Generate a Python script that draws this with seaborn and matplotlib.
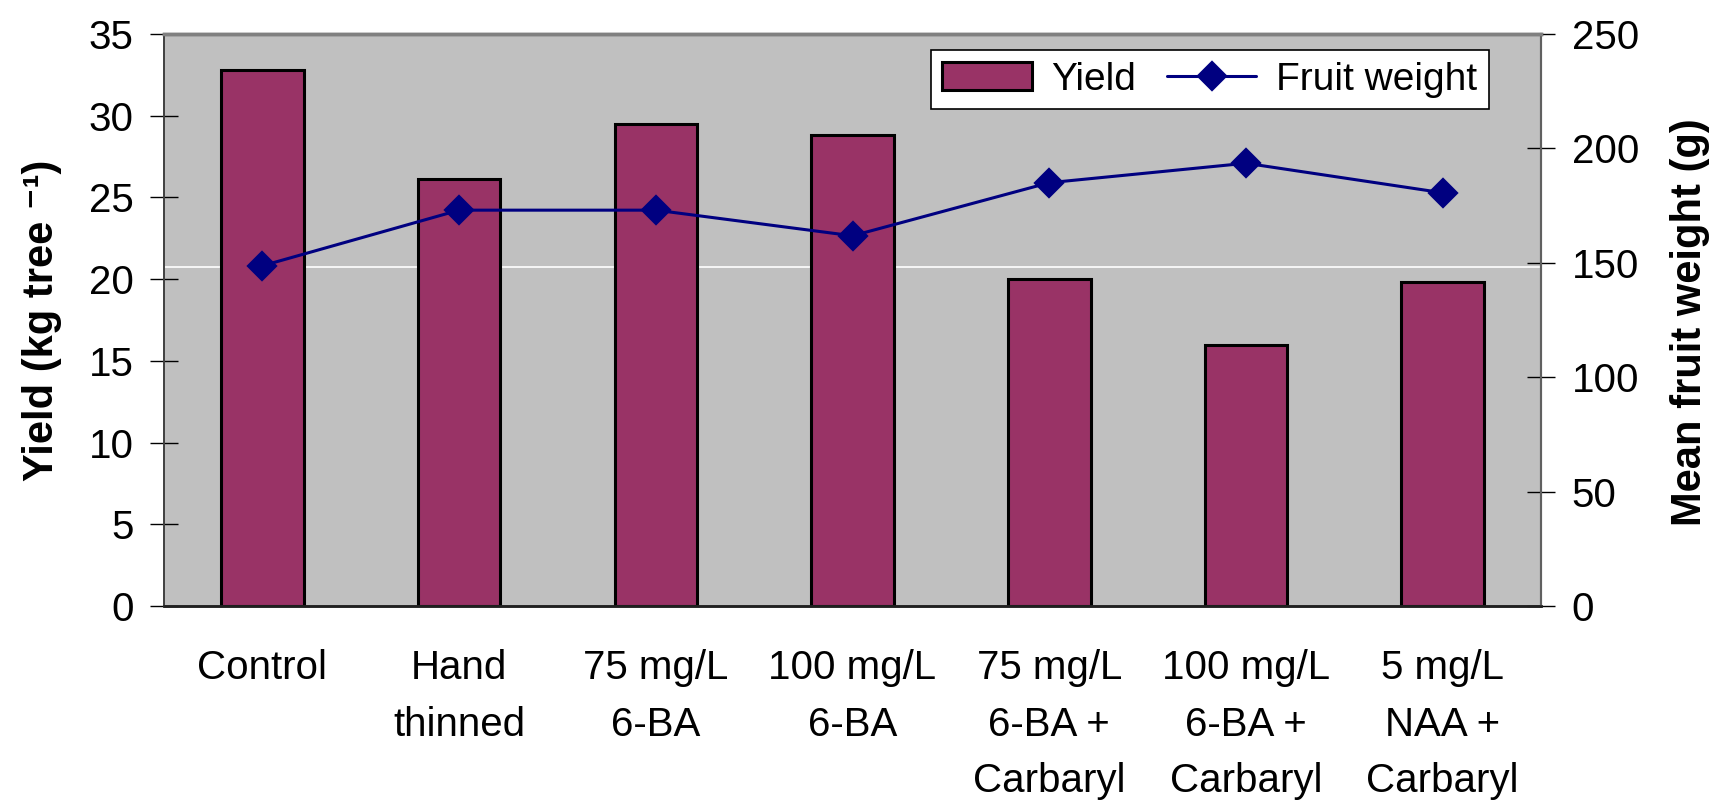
import matplotlib
matplotlib.use("Agg")
import matplotlib.pyplot as plt
import seaborn as sns
import pandas as pd

# Treatments, yield per tree (kg) and mean fruit weight (g)
treatments = ["Control", "Hand\nthinned", "75 mg/L\n6-BA", "100 mg/L\n6-BA",
              "75 mg/L\n6-BA +\nCarbaryl", "100 mg/L\n6-BA +\nCarbaryl",
              "5 mg/L\nNAA +\nCarbaryl"]
yield_kg = [32.8, 26.1, 29.5, 28.8, 20.0, 16.0, 19.8]
fruit_weight_g = [148.7, 173.0, 173.0, 161.8, 185.0, 193.5, 180.6]
yield_ticks = [0, 5, 10, 15, 20, 25, 30, 35]
weight_ticks = [0, 50, 100, 150, 200, 250]
guide_level = 20.76  # single light rule across the plot area

df = pd.DataFrame({"treatment": treatments, "Yield": yield_kg,
                   "Fruit weight": fruit_weight_g})

sns.set_theme(style="white")
plt.rcParams["font.family"] = ["Liberation Sans", "DejaVu Sans"]
for key in ("text.color", "axes.labelcolor", "xtick.color", "ytick.color"):
    plt.rcParams[key] = "black"

BAR = "#993366"
LINE = "#000080"
FS = 29
LABEL_FS = 30

fig = plt.figure(figsize=(17.14, 8.01), dpi=100)
ax = fig.add_axes([0.0957, 0.2434, 0.8034, 0.7142])
ax.set_facecolor("#C0C0C0")

ax.axhline(guide_level, color="white", lw=1.2, zorder=0.5)

sns.barplot(data=df, x="treatment", y="Yield", ax=ax, color=BAR,
            saturation=1, width=0.42, edgecolor="black", linewidth=2.2,
            zorder=2, label="Yield")

ax2 = ax.twinx()
sns.pointplot(data=df, x="treatment", y="Fruit weight", ax=ax2, color=LINE,
              markers="D", linestyles="-", markersize=14, linewidth=2.2,
              label="Fruit weight")
ax2.patch.set_visible(False)

# Axis ranges and ticks
ax.set_xlim(-0.5, len(treatments) - 0.5)
ax.set_ylim(0, 35)
ax2.set_ylim(0, 250)
ax.set_yticks(yield_ticks)
ax2.set_yticks(weight_ticks)

ax.set_xticks([i - 0.5 for i in range(len(treatments) + 1)])
ax.set_xticklabels([])
ax.set_xticks(range(len(treatments)), minor=True)
ax.set_xticklabels(treatments, minor=True, fontsize=FS, linespacing=1.62,
                   va="top")
ax.tick_params(axis="x", which="minor", length=0, pad=31)
ax.tick_params(axis="x", which="major", direction="inout", length=20,
               width=1, color="black")
ax.tick_params(axis="y", direction="inout", length=20, width=1,
               color="black", labelsize=FS, pad=12, left=True)
ax2.tick_params(axis="y", direction="inout", length=20, width=1,
                color="black", labelsize=FS, pad=12, right=True)
ax2.tick_params(axis="x", which="both", length=0)

ax.set_xlabel("")
ax2.set_xlabel("")
ax.set_ylabel("Yield (kg tree \u207b\u00b9)", fontsize=LABEL_FS,
              fontweight="bold")
ax2.set_ylabel("Mean fruit weight (g)", fontsize=LABEL_FS, fontweight="bold")
ax.yaxis.set_label_coords(-0.074, 0.5)
ax2.yaxis.set_label_coords(1.094, 0.497)

for a in (ax, ax2):
    a.spines["top"].set_color("#808080")
    a.spines["top"].set_linewidth(2.5)
    a.spines["left"].set_color("#404040")
    a.spines["left"].set_linewidth(1.2)
    a.spines["right"].set_color("#606060")
    a.spines["right"].set_linewidth(1.5)
    a.spines["bottom"].set_color("#202020")
    a.spines["bottom"].set_linewidth(1.8)

# Combined legend
h1, l1 = ax.get_legend_handles_labels()
h2, l2 = ax2.get_legend_handles_labels()
if ax.get_legend():
    ax.get_legend().remove()
leg = ax2.legend(h1[:1] + h2[:1], ["Yield", "Fruit weight"], ncol=2,
                 loc="upper right", bbox_to_anchor=(0.962, 0.972),
                 borderaxespad=0, fontsize=28, frameon=True, fancybox=False,
                 framealpha=1, edgecolor="black", handlelength=2.3,
                 columnspacing=0.8, handletextpad=0.5, borderpad=0.3)
leg.get_frame().set_linewidth(1.2)

fig.savefig("out.png", dpi=100)
